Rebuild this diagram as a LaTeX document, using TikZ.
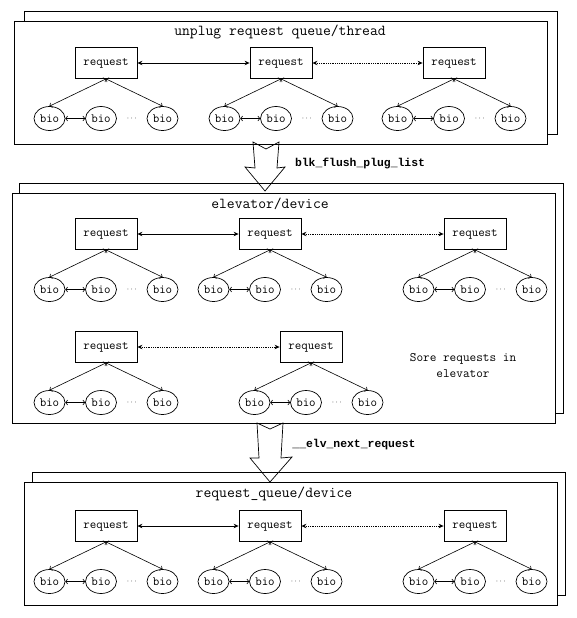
\documentclass[tikz,border=0pt]{standalone}
\usepackage{fontspec}
\newfontfamily\labelfont{Liberation Mono}
\usetikzlibrary{arrows.meta}
\usetikzlibrary{shapes.geometric}
\tikzset{
    tnode/.style = {align=center, inner sep=0pt, text centered, font=\ttfamily\fontsize{12.6}{14}\selectfont},
    req_node/.style = {tnode, rectangle, draw=black, minimum width=62pt, minimum height=31pt, line width=0.8pt},
    bio_node/.style = {tnode, ellipse, draw=black, minimum width=31pt, minimum height=24pt, line width=0.7pt},
    panel_title/.style = {tnode, font=\ttfamily\fontsize{15.2}{17}\selectfont},
    call_label/.style = {tnode, font=\labelfont\bfseries\fontsize{11.4}{13}\selectfont},
    note_text/.style = {tnode, font=\ttfamily\fontsize{12.9}{16}\selectfont},
    dots_node/.style = {tnode, font=\fontsize{8.5}{8.5}\selectfont}
}
\tikzset{
    back_box/.style = {draw=black, fill=white, line width=0.8pt},
    front_box/.style = {draw=black, fill=white, line width=0.8pt},
    big_arrow/.style = {draw=black, line width=0.7pt, line join=miter},
    req_link/.style = {{Stealth[length=5pt,width=4.5pt]}-{Stealth[length=5pt,width=4.5pt]}, line width=0.8pt},
    bio_link/.style = {{To[length=2.5pt]}-{To[length=2.5pt]}, line width=0.6pt}
}
\begin{document}
\begin{tikzpicture}
    [x=1pt, y=-1pt,
    level 1/.style={sibling distance = 56.5pt, level distance = 55.5pt},
    edge from parent path={(\tikzparentnode.south) -- (\tikzchildnode.north)},
    edge from parent/.style={draw, bio_link}]

    \useasboundingbox (0,0) rectangle (577,618);

    % stacked panels
    \draw[back_box] (24,11) rectangle (557,134);
    \draw[front_box] (14,21) rectangle (547,144);
    \draw[back_box] (19,183) rectangle (563,413);
    \draw[front_box] (12,193) rectangle (555,423);
    \draw[back_box] (32,472) rectangle (565,595);
    \draw[front_box] (24,482) rectangle (557,605);

    \node[panel_title] (t1) at (280,32) {unplug request queue/thread};
    \node[panel_title] (t2) at (270,204) {elevator/device};
    \node[panel_title] (t3) at (274,494) {request\_queue/device};

    % request with its bios
    \foreach \n/\x/\y in {r11/106/63, r12/281/63, r13/454/63,
                          r21/106/234, r22/270/234, r23/475/234,
                          r24/106/347, r25/311/347,
                          r31/106/526, r32/270/526, r33/475/526}
    {
        \node[req_node] (\n) at (\x,\y) {request}
        child{ node[bio_node] (\n-a) {bio} }
        child{ node[bio_node, xshift=-5pt] (\n-b) {bio} edge from parent[draw=none] }
        child{ node[bio_node] (\n-c) {bio} }
        ;
        \draw[bio_link] (\n-a) -- (\n-b);
        \path (\n-b) -- node[dots_node] (\n-d) {$\cdots$} (\n-c);
    }

    \draw[req_link] (r11) -- (r12);
    \draw[req_link, densely dotted] (r12) -- (r13);
    \draw[req_link] (r21) -- (r22);
    \draw[req_link, densely dotted] (r22) -- (r23);
    \draw[req_link, densely dotted] (r24) -- (r25);
    \draw[req_link] (r31) -- (r32);
    \draw[req_link, densely dotted] (r32) -- (r33);

    \node[note_text] (n1) at (463,366) {Sore requests in\\elevator};

    % block arrows between panels
    \draw[big_arrow] (253,142) -- (266,149) -- (279,142) -- (277,168) -- (285,167)
        -- (265,191) -- (245,167) -- (255,168) -- cycle;
    \node[call_label] (c1) at (360,163) {blk\_flush\_plug\_list};
    \draw[big_arrow] (257,423) -- (270,429) -- (283,423) -- (281,458) -- (292,457)
        -- (270,482) -- (250,458) -- (259,458) -- cycle;
    \node[call_label] (c2) at (354,445) {\_\_elv\_next\_request};
\end{tikzpicture}
\end{document}
